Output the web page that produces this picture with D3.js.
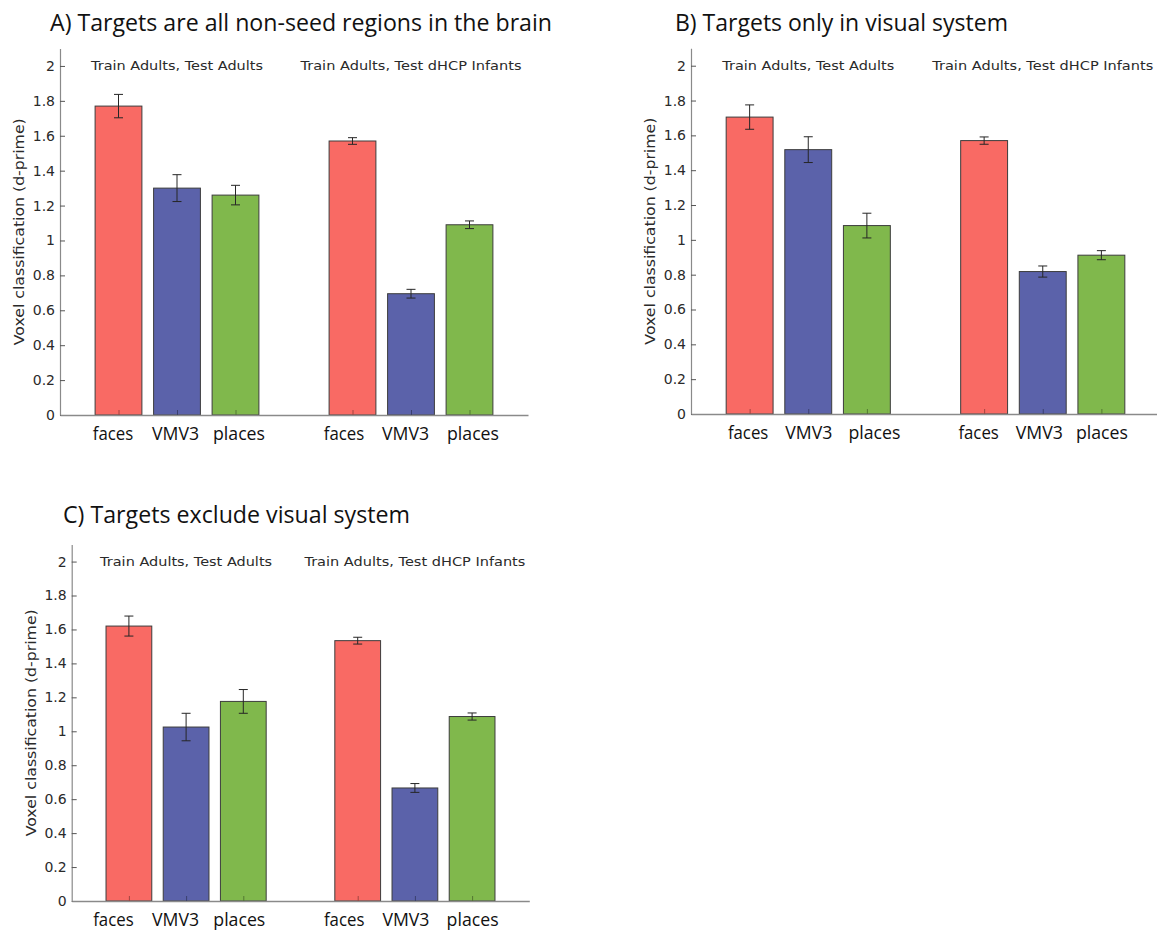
<!DOCTYPE html>
<html>
<head>
<meta charset="utf-8">
<script src="https://cdn.jsdelivr.net/npm/d3@7"></script>
<style>
  html, body { margin: 0; padding: 0; background: #fff; }
  svg { display: block; }
</style>
</head>
<body>
<script>
// ---------------- data ----------------
const categories = ["faces", "VMV3", "places"];
const groupLabels = ["Train Adults, Test Adults", "Train Adults, Test dHCP Infants"];
const xPositions = [1, 2, 3, 5, 6, 7];
const groupCenters = [2, 6];
const yTicks = [0, 0.2, 0.4, 0.6, 0.8, 1, 1.2, 1.4, 1.6, 1.8, 2];
const barColors = ["#F96A64", "#5B62AA", "#80B84C"];

const titleA = "A) Targets are all non-seed regions in the brain";
const meanA_adults = [1.77, 1.30, 1.26];
const meanA_infants = [1.57, 0.695, 1.09];
const seA_adults = [0.067, 0.077, 0.056];
const seA_infants = [0.019, 0.025, 0.022];

const titleB = "B) Targets only in visual system";
const meanB_adults = [1.705, 1.518, 1.082];
const meanB_infants = [1.57, 0.818, 0.912];
const seB_adults = [0.07, 0.074, 0.071];
const seB_infants = [0.021, 0.032, 0.026];

const titleC = "C) Targets exclude visual system";
const meanC_adults = [1.62, 1.025, 1.176];
const meanC_infants = [1.534, 0.666, 1.087];
const seC_adults = [0.059, 0.081, 0.07];
const seC_infants = [0.02, 0.026, 0.021];

const yLabel = "Voxel classification (d-prime)";

// ---------------- drawing ----------------
const W = 1157, H = 930;
const svg = d3.select("body").append("svg").attr("width", W).attr("height", H);
const catLabelLen = { faces: 40.5, VMV3: 47, places: 52 };

function drawPanel(cfg) {
  const x = d3.scaleLinear().domain([0, 8]).range([cfg.left, cfg.right]);
  const y = d3.scaleLinear().domain([0, 2.1]).range([cfg.bottom, cfg.top]);
  const g = svg.append("g");

  // title
  g.append("text")
    .attr("x", cfg.titleX).attr("y", cfg.titleY)
    .attr("font-family", "'Open Sans', 'Noto Sans', sans-serif")
    .attr("font-size", 23.5)
    .attr("fill", "#111")
    .attr("textLength", cfg.titleLen).attr("lengthAdjust", "spacingAndGlyphs")
    .text(cfg.title);

  const means = cfg.adults.concat(cfg.infants);
  const ses = cfg.seAdults.concat(cfg.seInfants);
  const rows = xPositions.map((p, i) => ({
    pos: p, mean: means[i], se: ses[i], color: barColors[i % 3], cat: categories[i % 3]
  }));

  // y axis
  const yAxis = d3.axisLeft(y).tickValues(yTicks).tickSizeInner(-5).tickSizeOuter(0).tickPadding(5)
    .tickFormat(d => String(+d.toFixed(1)));
  const ya = g.append("g").attr("transform", `translate(${cfg.left},0)`).call(yAxis);
  ya.select(".domain").attr("stroke", "#8a8a8a").attr("stroke-width", 1.2);
  ya.selectAll(".tick line").attr("stroke", "#555");
  ya.selectAll(".tick text")
    .attr("font-family", "'DejaVu Sans', sans-serif").attr("font-size", 14).attr("fill", "#2a2a2a");

  // bars
  g.selectAll("rect.bar").data(rows).enter().append("rect")
    .attr("class", "bar")
    .attr("x", d => x(d.pos - 0.4))
    .attr("width", d => x(d.pos + 0.4) - x(d.pos - 0.4))
    .attr("y", d => y(d.mean))
    .attr("height", d => y(0) - y(d.mean))
    .attr("fill", d => d.color)
    .attr("stroke", "#3c3c3c")
    .attr("stroke-width", 1);

  // error bars
  const eb = g.selectAll("g.err").data(rows).enter().append("g").attr("class", "err")
    .attr("stroke", "#262626").attr("stroke-width", 1);
  eb.append("line")
    .attr("x1", d => x(d.pos)).attr("x2", d => x(d.pos))
    .attr("y1", d => y(d.mean - d.se)).attr("y2", d => y(d.mean + d.se));
  eb.append("line")
    .attr("x1", d => x(d.pos) - 4.5).attr("x2", d => x(d.pos) + 4.5)
    .attr("y1", d => y(d.mean + d.se)).attr("y2", d => y(d.mean + d.se));
  eb.append("line")
    .attr("x1", d => x(d.pos) - 4.5).attr("x2", d => x(d.pos) + 4.5)
    .attr("y1", d => y(d.mean - d.se)).attr("y2", d => y(d.mean - d.se));

  // x axis
  const xAxis = d3.axisBottom(x).tickValues(xPositions).tickSizeInner(-5).tickSizeOuter(0).tickPadding(8)
    .tickFormat((d, i) => categories[i % 3]);
  const xa = g.append("g").attr("transform", `translate(0,${cfg.bottom})`).call(xAxis);
  xa.select(".domain").attr("stroke", "#8a8a8a").attr("stroke-width", 1.5);
  xa.selectAll(".tick line").attr("stroke", (d, i) => d3.color(barColors[i % 3]).darker(1.2));
  xa.selectAll(".tick text")
    .attr("font-family", "'Open Sans', 'Noto Sans', sans-serif").attr("font-size", 18).attr("fill", "#111")
    .attr("dy", "0.95em")
    .attr("dx", (d, i) => cfg.labelDx[i])
    .attr("textLength", (d, i) => catLabelLen[categories[i % 3]])
    .attr("lengthAdjust", "spacingAndGlyphs");

  // group labels
  g.selectAll("text.grp").data(groupLabels).enter().append("text")
    .attr("class", "grp")
    .attr("x", (d, i) => x(groupCenters[i]))
    .attr("y", y(2))
    .attr("dy", "0.35em")
    .attr("text-anchor", "middle")
    .attr("font-family", "'DejaVu Sans', sans-serif")
    .attr("font-size", 12.5)
    .attr("fill", "#2a2a2a")
    .attr("textLength", (d, i) => i === 0 ? 172 : 221)
    .attr("lengthAdjust", "spacingAndGlyphs")
    .text(d => d);

  // y label
  const cy = (cfg.top + cfg.bottom) / 2;
  g.append("text")
    .attr("transform", `translate(${cfg.left - 41},${cy}) rotate(-90)`)
    .attr("text-anchor", "middle")
    .attr("dy", "0.35em")
    .attr("font-family", "'DejaVu Sans', sans-serif")
    .attr("font-size", 14)
    .attr("fill", "#2a2a2a")
    .attr("textLength", 227).attr("lengthAdjust", "spacingAndGlyphs")
    .text(yLabel);
}

drawPanel({
  title: titleA, titleX: 50, titleY: 31, titleLen: 502,
  left: 60, right: 528, top: 48.5, bottom: 415,
  labelDx: [-6, -2, 3, -9, -6, 3],
  adults: meanA_adults, infants: meanA_infants, seAdults: seA_adults, seInfants: seA_infants
});
drawPanel({
  title: titleB, titleX: 675, titleY: 30.5, titleLen: 333,
  left: 691, right: 1160, top: 48.3, bottom: 414,
  labelDx: [-2, 0, 7, -6, -4, 0],
  adults: meanB_adults, infants: meanB_infants, seAdults: seB_adults, seInfants: seB_infants
});
drawPanel({
  title: titleC, titleX: 63, titleY: 523, titleLen: 347,
  left: 71.7, right: 529.3, top: 544.6, bottom: 901,
  labelDx: [-16, -11, -4.5, -14, -9.5, 0],
  adults: meanC_adults, infants: meanC_infants, seAdults: seC_adults, seInfants: seC_infants
});
</script>
</body>
</html>
